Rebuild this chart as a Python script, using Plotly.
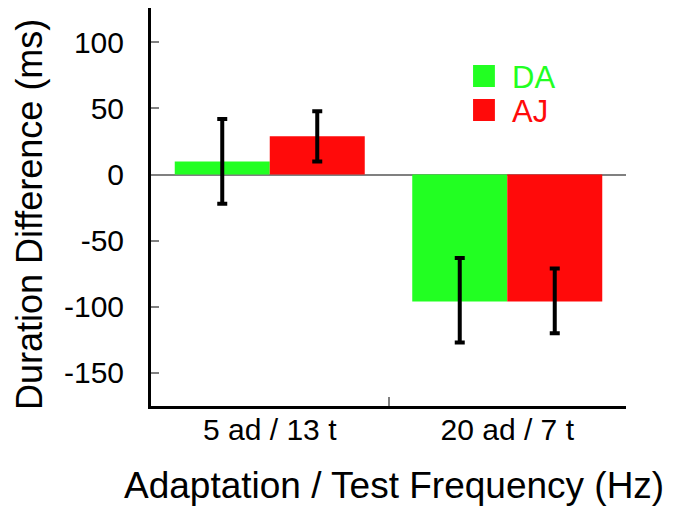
import plotly.graph_objects as go

categories = ["5 ad / 13 t", "20 ad / 7 t"]
series_names = ["DA", "AJ"]
series_colors = ["#22ff22", "#ff0a0a"]
da_values = [10, -96]
aj_values = [29, -96]
da_err_plus = [32, 33]
da_err_minus = [32, 31]
aj_err_plus = [19, 25]
aj_err_minus = [19, 24]
y_tick_values = [-150, -100, -50, 0, 50, 100]
y_tick_labels = ["-150", "-100", "-50", "0", "50", "100"]
x_title = "Adaptation / Test Frequency (Hz)"
y_title = "Duration Difference (ms)"

FONT = "Liberation Sans, Arial, Helvetica, sans-serif"

fig = go.Figure()
for name, color, vals, ep, em in [
    (series_names[0], series_colors[0], da_values, da_err_plus, da_err_minus),
    (series_names[1], series_colors[1], aj_values, aj_err_plus, aj_err_minus),
]:
    fig.add_trace(go.Bar(
        x=categories, y=vals, name=name,
        marker=dict(color=color, line=dict(width=0)),
        error_y=dict(type="data", symmetric=False, array=ep, arrayminus=em,
                     color="black", thickness=4, width=5),
        showlegend=False,
    ))

# legend drawn as squares + coloured labels
leg_x0, leg_x1, txt_x = 0.678, 0.724, 0.755
leg_rows = [(0.8568, 0.8015), (0.7714, 0.7161)]
for (name, color), (ya, yb) in zip(zip(series_names, series_colors), leg_rows):
    fig.add_shape(type="rect", xref="paper", yref="paper",
                  x0=leg_x0, x1=leg_x1, y0=yb, y1=ya,
                  fillcolor=color, line=dict(width=0))
    fig.add_annotation(xref="paper", yref="paper", x=txt_x, y=(ya + yb) / 2 - 0.004,
                       text=name, showarrow=False, xanchor="left", yanchor="middle",
                       font=dict(family=FONT, size=31, color=color))

# axis titles
fig.add_annotation(xref="paper", yref="paper", x=-0.2555, y=0.4812,
                   text=y_title, textangle=-90, showarrow=False,
                   xanchor="center", yanchor="middle", borderpad=0,
                   font=dict(family=FONT, size=36, color="black"))
fig.add_annotation(xref="paper", yref="paper", x=0.5116, y=-0.1985,
                   text=x_title, showarrow=False,
                   xanchor="center", yanchor="middle", borderpad=0,
                   font=dict(family=FONT, size=37, color="black"))

fig.update_layout(
    width=665, height=498,
    margin=dict(l=143, r=47, t=0, b=100),
    paper_bgcolor="white", plot_bgcolor="white",
    bargap=0.2, bargroupgap=0,
    font=dict(family=FONT, color="black"),
)
fig.update_xaxes(
    type="category", range=[-0.5, 1.5],
    showline=True, linecolor="black", linewidth=3,
    ticks="inside", tickson="boundaries", ticklen=9, tickcolor="#808080", tickwidth=1.5,
    tickfont=dict(family=FONT, size=30, color="black"),
    ticklabelstandoff=-5,
    showgrid=False, zeroline=False,
)
fig.update_yaxes(
    range=[-175, 126],
    tickvals=y_tick_values, ticktext=y_tick_labels,
    showline=True, linecolor="black", linewidth=3,
    ticks="inside", ticklen=8, tickcolor="#808080", tickwidth=1.5,
    tickfont=dict(family=FONT, size=30, color="black"),
    ticklabelstandoff=18,
    showgrid=False,
    zeroline=True, zerolinecolor="#808080", zerolinewidth=1.5,
)

fig.write_html("out.html")
